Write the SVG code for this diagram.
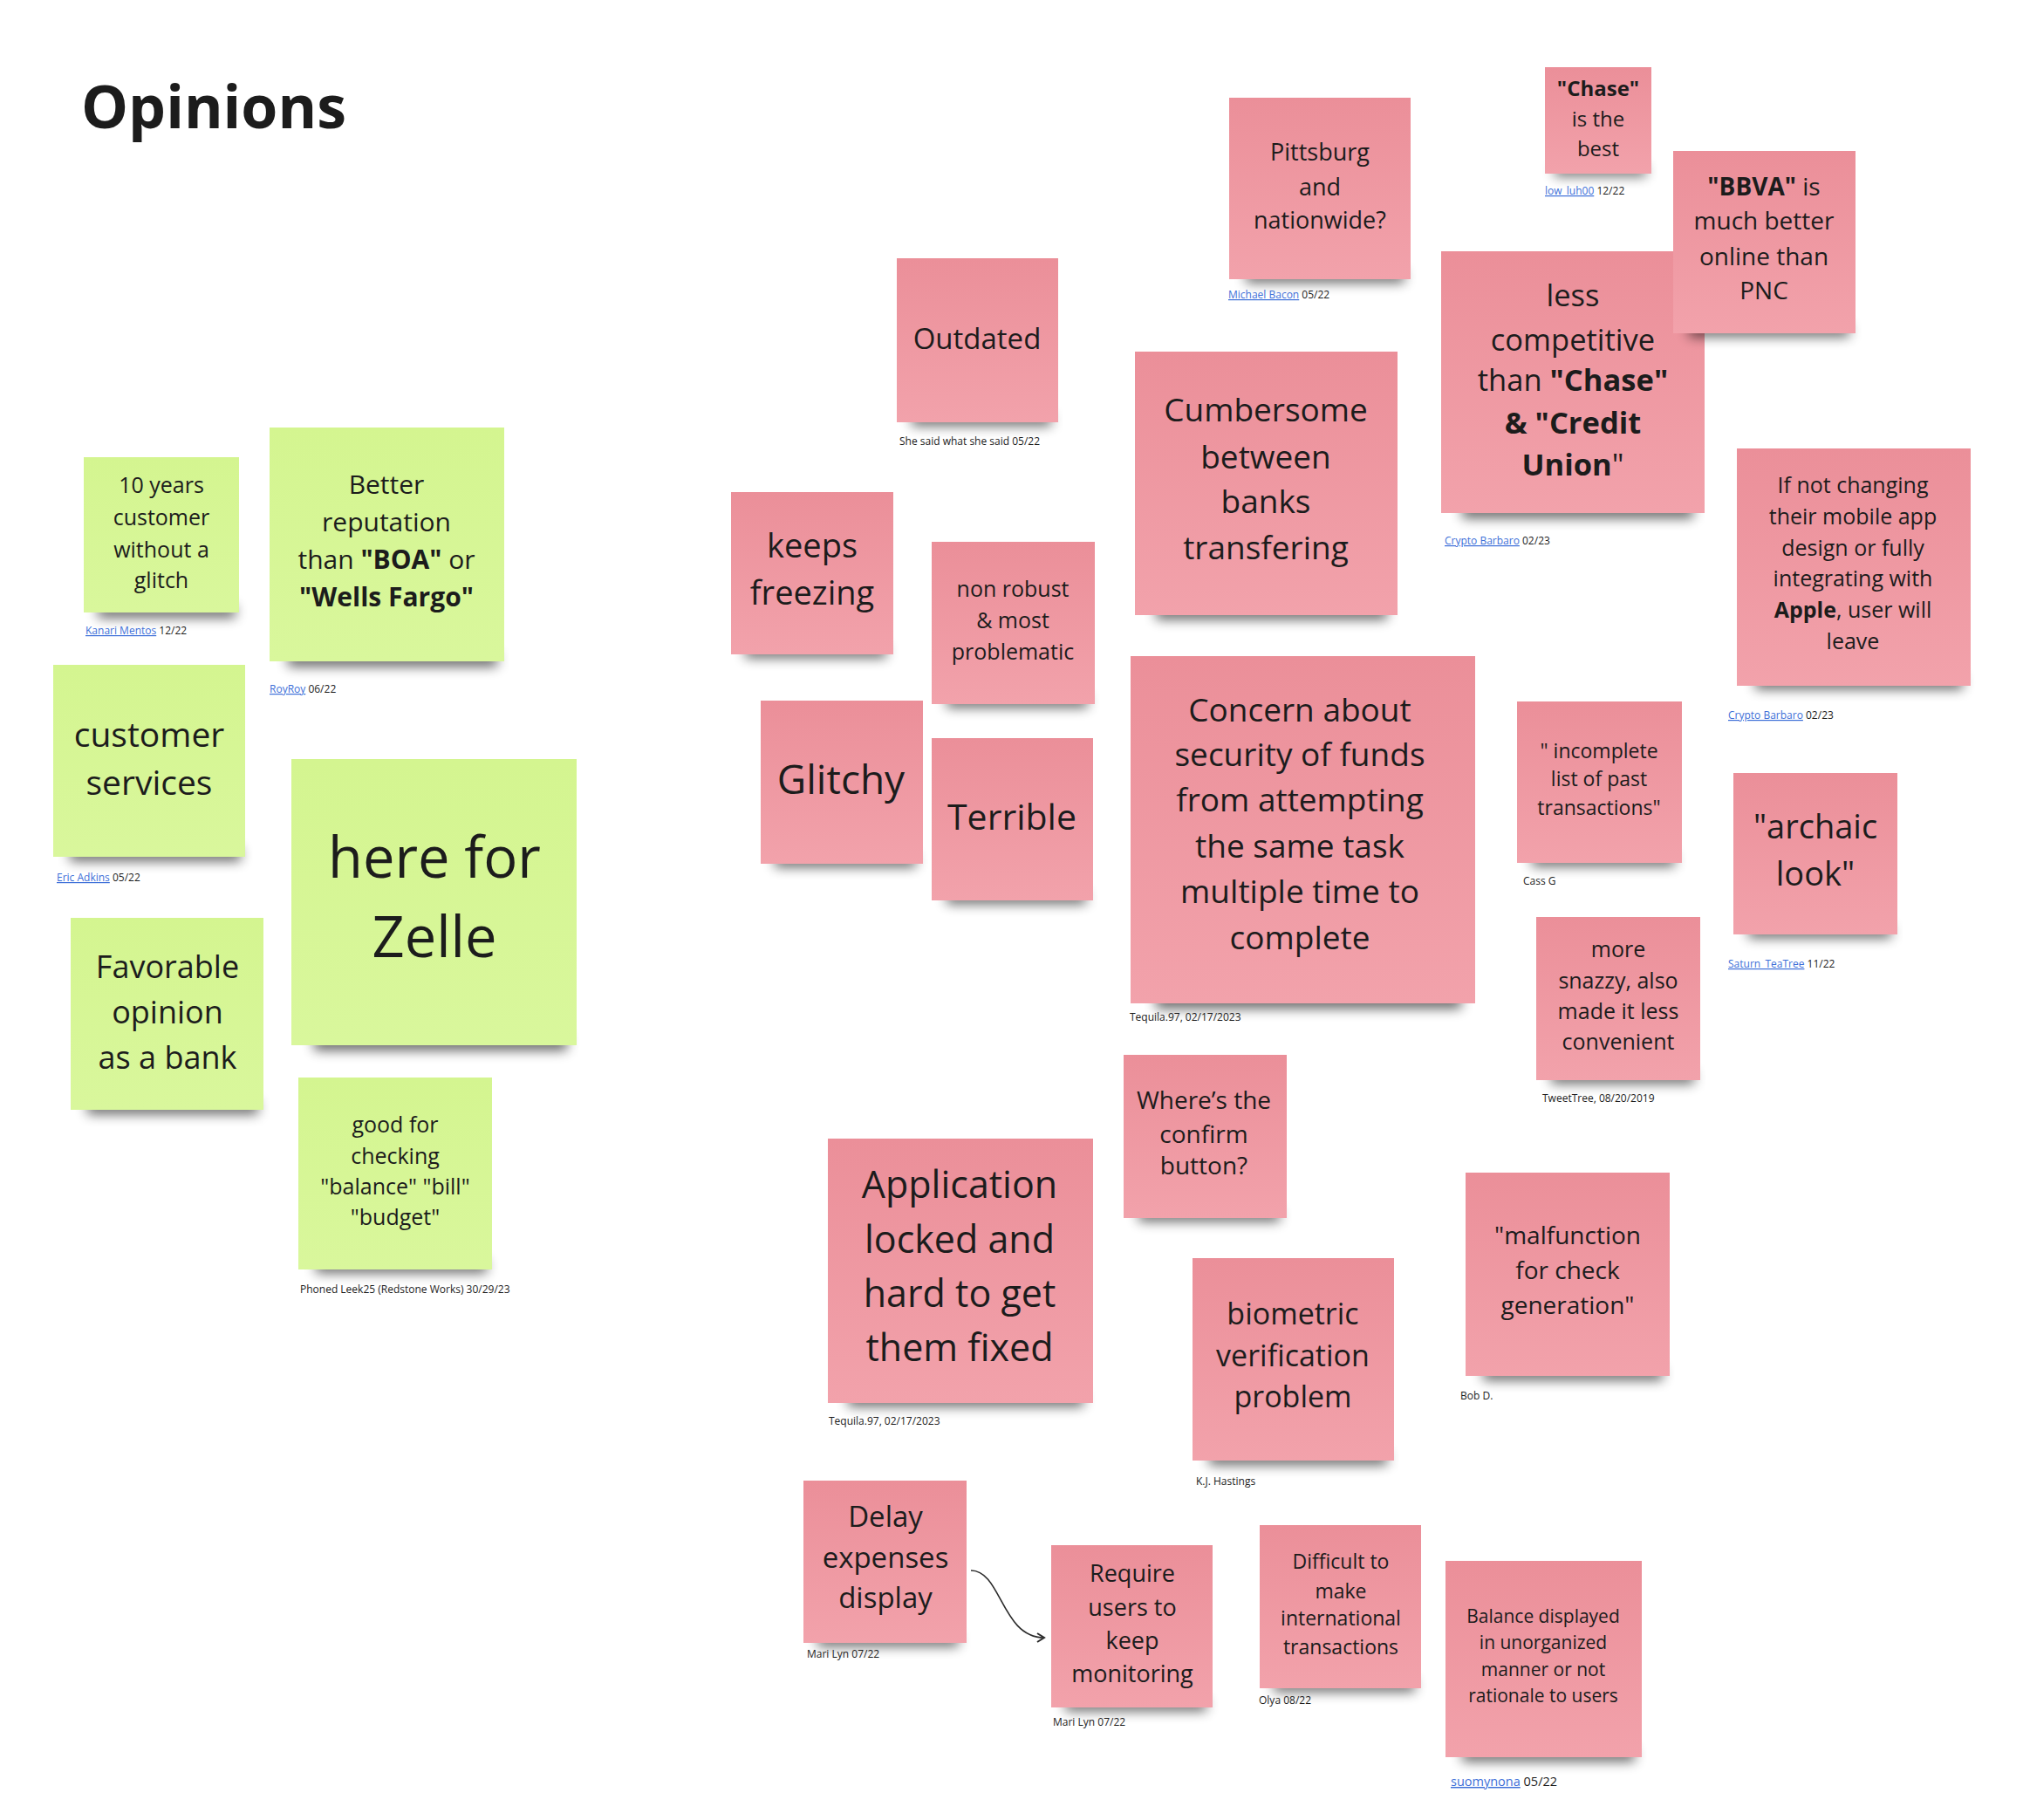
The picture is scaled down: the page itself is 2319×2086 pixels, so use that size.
<svg xmlns="http://www.w3.org/2000/svg" width="2319" height="2086" viewBox="0 0 2319 2086">
<style>
text{font-family:"Open Sans","Noto Sans","DejaVu Sans",sans-serif;fill:#1c1c1c}
.t{text-anchor:middle}
.b{font-weight:700}
.au{font-size:12px}
.lk{fill:#3d6fd8;text-decoration:underline}
.g{fill:url(#gg)}
.p{fill:url(#pg)}
.sh{fill:#000;opacity:.6;filter:url(#blur)}
.title{font-size:68px;font-weight:700}
.con{fill:none;stroke:#2b2b2b;stroke-width:1.6}
</style>
<defs>
<linearGradient id="gg" x1="0" y1="0" x2="0" y2="1"><stop offset="0" stop-color="#d4f590"/><stop offset="1" stop-color="#d9f79c"/></linearGradient>
<linearGradient id="pg" x1="0" y1="0" x2="0" y2="1"><stop offset="0" stop-color="#eb8f99"/><stop offset="1" stop-color="#f2a2ab"/></linearGradient>
<filter id="blur" x="-20%" y="-100%" width="140%" height="400%"><feGaussianBlur stdDeviation="7"/></filter>
<marker id="ah" viewBox="0 0 12 12" refX="10" refY="6" markerWidth="12" markerHeight="12" markerUnits="userSpaceOnUse" orient="auto"><path d="M2,1 L10,6 L2,11" fill="none" stroke="#2b2b2b" stroke-width="2"/></marker>
</defs>
<rect width="2319" height="2086" fill="#ffffff"/>
<text class="title" x="93" y="147">Opinions</text>

<g id="n-10years">
<rect class="sh" x="112" y="694" width="158" height="14"/>
<rect class="g" x="96" y="524" width="178" height="178"/>
<text class="t" font-size="25" x="185"><tspan x="185" y="565">10 years</tspan><tspan x="185" y="602">customer</tspan><tspan x="185" y="639">without a</tspan><tspan x="185" y="674">glitch</tspan></text>
<text class="au" x="98" y="727"><tspan class="lk">Kanari Mentos</tspan> 12/22</text>
</g>

<g id="n-better">
<rect class="sh" x="330" y="748" width="240" height="16"/>
<rect class="g" x="309" y="490" width="269" height="268"/>
<text class="t" font-size="30" x="443"><tspan x="443" y="566">Better</tspan><tspan x="443" y="609">reputation</tspan><tspan x="443" y="652">than <tspan class="b">"BOA"</tspan> or</tspan><tspan x="443" y="695" class="b">"Wells Fargo"</tspan></text>
<text class="au" x="309" y="794"><tspan class="lk">RoyRoy</tspan> 06/22</text>
</g>

<g id="n-custsvc">
<rect class="sh" x="80" y="972" width="196" height="15"/>
<rect class="g" x="61" y="762" width="220" height="220"/>
<text class="t" font-size="39" x="171"><tspan x="171" y="856">customer</tspan><tspan x="171" y="911">services</tspan></text>
<text class="au" x="65" y="1010"><tspan class="lk">Eric Adkins</tspan> 05/22</text>
</g>

<g id="n-zelle">
<rect class="sh" x="360" y="1186" width="290" height="18"/>
<rect class="g" x="334" y="870" width="327" height="328"/>
<text class="t" font-size="65" x="498"><tspan x="498" y="1006">here for</tspan><tspan x="498" y="1097">Zelle</tspan></text>
</g>

<g id="n-favorable">
<rect class="sh" x="100" y="1262" width="196" height="15"/>
<rect class="g" x="81" y="1052" width="221" height="220"/>
<text class="t" font-size="36" x="192"><tspan x="192" y="1121">Favorable</tspan><tspan x="192" y="1173">opinion</tspan><tspan x="192" y="1225">as a bank</tspan></text>
</g>

<g id="n-goodfor">
<rect class="sh" x="362" y="1444" width="196" height="15"/>
<rect class="g" x="342" y="1235" width="222" height="220"/>
<text class="t" font-size="25" x="453"><tspan x="453" y="1298">good for</tspan><tspan x="453" y="1334">checking</tspan><tspan x="453" y="1369">"balance" "bill"</tspan><tspan x="453" y="1404">"budget"</tspan></text>
<text class="au" x="344" y="1482">Phoned Leek25 (Redstone Works) 30/29/23</text>
</g>

<g id="n-outdated">
<rect class="sh" x="1045" y="474" width="160" height="14"/>
<rect class="p" x="1028" y="296" width="185" height="188"/>
<text class="t" font-size="33" x="1120" y="400">Outdated</text>
<text class="au" x="1031" y="510">She said what she said 05/22</text>
</g>

<g id="n-pittsburg">
<rect class="sh" x="1428" y="310" width="182" height="14"/>
<rect class="p" x="1409" y="112" width="208" height="208"/>
<text class="t" font-size="27" x="1513"><tspan x="1513" y="184">Pittsburg</tspan><tspan x="1513" y="224">and</tspan><tspan x="1513" y="262">nationwide?</tspan></text>
<text class="au" x="1408" y="342"><tspan class="lk">Michael Bacon</tspan> 05/22</text>
</g>

<g id="n-cumbersome">
<rect class="sh" x="1325" y="694" width="265" height="16"/>
<rect class="p" x="1301" y="403" width="301" height="302"/>
<text class="t" font-size="37" x="1451"><tspan x="1451" y="483">Cumbersome</tspan><tspan x="1451" y="537">between</tspan><tspan x="1451" y="588">banks</tspan><tspan x="1451" y="641">transfering</tspan></text>
</g>

<g id="n-keeps">
<rect class="sh" x="854" y="740" width="162" height="14"/>
<rect class="p" x="838" y="564" width="186" height="186"/>
<text class="t" font-size="38" x="931"><tspan x="931" y="639">keeps</tspan><tspan x="931" y="693">freezing</tspan></text>
</g>

<g id="n-nonrobust">
<rect class="sh" x="1085" y="797" width="162" height="14"/>
<rect class="p" x="1068" y="621" width="187" height="186"/>
<text class="t" font-size="25" x="1161"><tspan x="1161" y="684">non robust</tspan><tspan x="1161" y="720">&amp; most</tspan><tspan x="1161" y="756">problematic</tspan></text>
</g>

<g id="n-glitchy">
<rect class="sh" x="888" y="980" width="162" height="14"/>
<rect class="p" x="872" y="803" width="186" height="187"/>
<text class="t" font-size="46" x="964" y="910">Glitchy</text>
</g>

<g id="n-terrible">
<rect class="sh" x="1085" y="1022" width="160" height="14"/>
<rect class="p" x="1068" y="846" width="185" height="186"/>
<text class="t" font-size="41" x="1160" y="951">Terrible</text>
</g>

<g id="n-concern">
<rect class="sh" x="1325" y="1138" width="350" height="18"/>
<rect class="p" x="1296" y="752" width="395" height="398"/>
<text class="t" font-size="37" x="1490"><tspan x="1490" y="827">Concern about</tspan><tspan x="1490" y="878">security of funds</tspan><tspan x="1490" y="930">from attempting</tspan><tspan x="1490" y="983">the same task</tspan><tspan x="1490" y="1035">multiple time to</tspan><tspan x="1490" y="1088">complete</tspan></text>
<text class="au" x="1295" y="1170">Tequila.97, 02/17/2023</text>
</g>

<g id="n-wheres">
<rect class="sh" x="1305" y="1386" width="162" height="14"/>
<rect class="p" x="1288" y="1209" width="187" height="187"/>
<text class="t" font-size="28" x="1380"><tspan x="1380" y="1271">Where’s the</tspan><tspan x="1380" y="1310">confirm</tspan><tspan x="1380" y="1346">button?</tspan></text>
</g>

<g id="n-application">
<rect class="sh" x="972" y="1596" width="270" height="16"/>
<rect class="p" x="949" y="1305" width="304" height="303"/>
<text class="t" font-size="43" x="1100"><tspan x="1100" y="1373">Application</tspan><tspan x="1100" y="1436">locked and</tspan><tspan x="1100" y="1498">hard to get</tspan><tspan x="1100" y="1560">them fixed</tspan></text>
<text class="au" x="950" y="1633">Tequila.97, 02/17/2023</text>
</g>

<g id="n-biometric">
<rect class="sh" x="1386" y="1664" width="204" height="15"/>
<rect class="p" x="1367" y="1442" width="231" height="232"/>
<text class="t" font-size="34" x="1482"><tspan x="1482" y="1518">biometric</tspan><tspan x="1482" y="1566">verification</tspan><tspan x="1482" y="1613">problem</tspan></text>
<text class="au" x="1371" y="1702">K.J. Hastings</text>
</g>

<g id="n-delay">
<rect class="sh" x="937" y="1873" width="162" height="14"/>
<rect class="p" x="921" y="1697" width="187" height="186"/>
<text class="t" font-size="33" x="1015"><tspan x="1015" y="1750">Delay</tspan><tspan x="1015" y="1797">expenses</tspan><tspan x="1015" y="1843">display</tspan></text>
<text class="au" x="925" y="1900">Mari Lyn 07/22</text>
</g>

<g id="n-require">
<rect class="sh" x="1221" y="1947" width="162" height="14"/>
<rect class="p" x="1205" y="1771" width="185" height="186"/>
<text class="t" font-size="27" x="1298"><tspan x="1298" y="1813">Require</tspan><tspan x="1298" y="1852">users to</tspan><tspan x="1298" y="1890">keep</tspan><tspan x="1298" y="1928">monitoring</tspan></text>
<text class="au" x="1207" y="1978">Mari Lyn 07/22</text>
</g>

<g id="n-difficult">
<rect class="sh" x="1460" y="1925" width="162" height="14"/>
<rect class="p" x="1444" y="1748" width="185" height="187"/>
<text class="t" font-size="23" x="1537"><tspan x="1537" y="1798">Difficult to</tspan><tspan x="1537" y="1832">make</tspan><tspan x="1537" y="1863">international</tspan><tspan x="1537" y="1896">transactions</tspan></text>
<text class="au" x="1443" y="1953">Olya 08/22</text>
</g>

<g id="n-balance">
<rect class="sh" x="1676" y="2004" width="198" height="15"/>
<rect class="p" x="1657" y="1789" width="225" height="225"/>
<text class="t" font-size="21" x="1769"><tspan x="1769" y="1860">Balance displayed</tspan><tspan x="1769" y="1890">in unorganized</tspan><tspan x="1769" y="1921">manner or not</tspan><tspan x="1769" y="1951">rationale to users</tspan></text>
<text x="1663" y="2047" font-size="14.5"><tspan class="lk">suomynona</tspan> 05/22</text>
</g>

<g id="n-malfunction">
<rect class="sh" x="1700" y="1567" width="206" height="15"/>
<rect class="p" x="1680" y="1344" width="234" height="233"/>
<text class="t" font-size="28" x="1797"><tspan x="1797" y="1426">"malfunction</tspan><tspan x="1797" y="1466">for check</tspan><tspan x="1797" y="1506">generation"</tspan></text>
<text class="au" x="1674" y="1604">Bob D.</text>
</g>

<g id="n-chase">
<rect class="sh" x="1782" y="190" width="105" height="12"/>
<rect class="p" x="1771" y="77" width="122" height="122"/>
<text class="t" font-size="24" x="1832"><tspan x="1832" y="110" class="b">"Chase"</tspan><tspan x="1832" y="145">is the</tspan><tspan x="1832" y="179">best</tspan></text>
<text class="au" x="1771" y="223"><tspan class="lk">low_luh00</tspan> 12/22</text>
</g>

<g id="n-less">
<rect class="sh" x="1676" y="578" width="265" height="16"/>
<rect class="p" x="1652" y="288" width="302" height="300"/>
<text class="t" font-size="34.5" x="1803"><tspan x="1803" y="351">less</tspan><tspan x="1803" y="402">competitive</tspan><tspan x="1803" y="448">than <tspan class="b">"Chase"</tspan></tspan><tspan x="1803" y="497" class="b">&amp; "Credit</tspan><tspan x="1803" y="545"><tspan class="b">Union</tspan>"</tspan></text>
<text class="au" x="1656" y="624"><tspan class="lk">Crypto Barbaro</tspan> 02/23</text>
</g>

<g id="n-bbva">
<rect class="sh" x="1936" y="372" width="184" height="14"/>
<rect class="p" x="1918" y="173" width="209" height="209"/>
<text class="t" font-size="28" x="2022"><tspan x="2022" y="224"><tspan class="b">"BBVA"</tspan> is</tspan><tspan x="2022" y="263">much better</tspan><tspan x="2022" y="304">online than</tspan><tspan x="2022" y="343">PNC</tspan></text>
</g>

<g id="n-ifnot">
<rect class="sh" x="2012" y="774" width="238" height="16"/>
<rect class="p" x="1991" y="514" width="268" height="272"/>
<text class="t" font-size="25" x="2124"><tspan x="2124" y="565">If not changing</tspan><tspan x="2124" y="601">their mobile app</tspan><tspan x="2124" y="637">design or fully</tspan><tspan x="2124" y="672">integrating with</tspan><tspan x="2124" y="708"><tspan class="b">Apple</tspan>, user will</tspan><tspan x="2124" y="744">leave</tspan></text>
<text class="au" x="1981" y="824"><tspan class="lk">Crypto Barbaro</tspan> 02/23</text>
</g>

<g id="n-incomplete">
<rect class="sh" x="1756" y="979" width="164" height="14"/>
<rect class="p" x="1739" y="804" width="189" height="185"/>
<text class="t" font-size="23" x="1833"><tspan x="1833" y="869">" incomplete</tspan><tspan x="1833" y="901">list of past</tspan><tspan x="1833" y="934">transactions"</tspan></text>
<text class="au" x="1746" y="1014">Cass G</text>
</g>

<g id="n-archaic">
<rect class="sh" x="2004" y="1061" width="164" height="14"/>
<rect class="p" x="1987" y="886" width="188" height="185"/>
<text class="t" font-size="38" x="2081"><tspan x="2081" y="961">"archaic</tspan><tspan x="2081" y="1015">look"</tspan></text>
<text class="au" x="1981" y="1109"><tspan class="lk">Saturn_TeaTree</tspan> 11/22</text>
</g>

<g id="n-snazzy">
<rect class="sh" x="1778" y="1228" width="164" height="14"/>
<rect class="p" x="1761" y="1051" width="188" height="187"/>
<text class="t" font-size="25" x="1855"><tspan x="1855" y="1097">more</tspan><tspan x="1855" y="1133">snazzy, also</tspan><tspan x="1855" y="1168">made it less</tspan><tspan x="1855" y="1203">convenient</tspan></text>
<text class="au" x="1768" y="1263">TweetTree, 08/20/2019</text>
</g>

<g id="connectors">
<path class="con" d="M1113,1800 C1148,1800 1148,1877 1197,1877" marker-end="url(#ah)"/>
</g>
</svg>
